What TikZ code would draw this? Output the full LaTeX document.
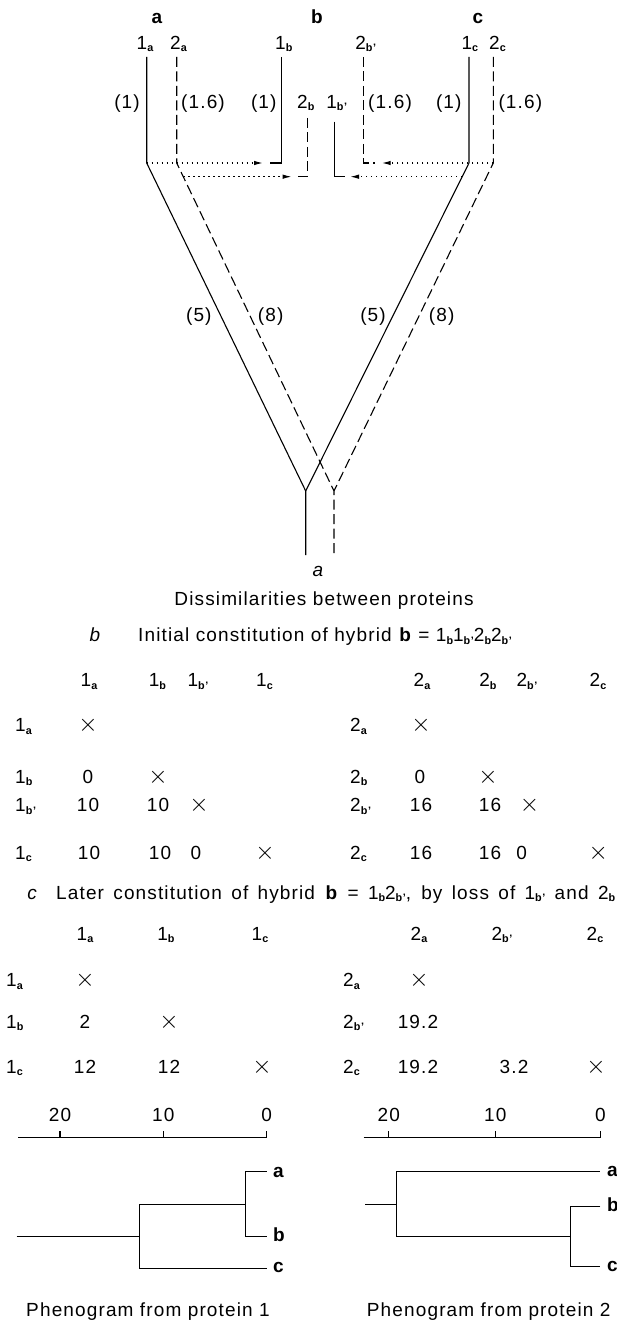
\documentclass[tikz,border=0pt]{standalone}
\usepackage{fontspec}
\setmainfont{Liberation Sans}[LetterSpace=6]
\usetikzlibrary{arrows.meta}
\newcommand{\lsub}[1]{\raisebox{-2.5pt}{\fontsize{10.8}{11}\selectfont\bfseries #1}}
\newcommand{\cross}{{\fontsize{25}{25}\selectfont$\times$}}

\begin{document}
\begin{tikzpicture}[x=1pt, y=-1pt, >={Latex[length=9pt,width=4.5pt]},
  font=\fontsize{19}{21}\selectfont,
  txt/.style={inner sep=0pt, anchor=base},
  txtw/.style={inner sep=0pt, anchor=base west},
  txte/.style={inner sep=0pt, anchor=base east},
  sp/.style={txt, font=\fontsize{19}{21}\selectfont\bfseries},
  part/.style={txt, font=\fontsize{19}{21}\selectfont\itshape},
  prot/.style={line width=1.1pt},
  prot2/.style={line width=1.1pt, dash pattern=on 10pt off 4.5pt},
  transfer/.style={->, line width=1.2pt, dash pattern=on 1.3pt off 3.7pt},
  phen/.style={line width=1.1pt}]
\useasboundingbox (0,0) rectangle (617,1321);

% a: gene tree of the two proteins
\coordinate (t1a) at (146.7,57);  \coordinate (k1a) at (146.7,163);
\coordinate (t2a) at (176.7,57);  \coordinate (k2a) at (176.7,163);
\coordinate (t1b) at (281.7,57);  \coordinate (k1b) at (281.7,163);  \coordinate (f1b) at (270,163);
\coordinate (t2bp) at (363.3,57); \coordinate (k2bp) at (363.3,163); \coordinate (f2bp) at (375,163);
\coordinate (t2b) at (307.3,118); \coordinate (k2b) at (307.3,176.7); \coordinate (f2b) at (296.7,176.7);
\coordinate (t1bp) at (334.3,121.7); \coordinate (k1bp) at (334.3,176.7); \coordinate (f1bp) at (345,176.7);
\coordinate (t1c) at (469,57);    \coordinate (k1c) at (469,163);
\coordinate (t2c) at (493.3,57);  \coordinate (k2c) at (493.3,163);
\coordinate (j1) at (305.7,491);  \coordinate (r1) at (305.7,555);
\coordinate (j2) at (334,491);    \coordinate (r2) at (334,555);
\coordinate (s2a) at (183.3,176.7); \coordinate (s1c) at (462.2,176.7);
\coordinate (h1b) at (263,163);   \coordinate (h2b) at (291.7,176.7);
\coordinate (h2bp) at (381.7,163); \coordinate (h1bp) at (350,176.7);

\draw[prot] (t1a) -- (k1a) -- (j1) -- (r1);
\draw[prot] (t1c) -- (k1c) -- (j1);
\draw[prot2] (t2a) -- (k2a) -- (j2) -- (r2);
\draw[prot2] (t2c) -- (k2c) -- (j2);
\draw[prot] (t1b) -- (k1b) -- (f1b);
\draw[prot] (t1bp) -- (k1bp) -- (f1bp);
\draw[prot2] (t2b) -- (k2b) -- (f2b);
\draw[prot2] (t2bp) -- (k2bp) -- (f2bp);
\draw[transfer] (k1a) -- (h1b);
\draw[transfer] (s2a) -- (h2b);
\draw[transfer] (k2c) -- (h2bp);
\draw[transfer] (s1c) -- (h1bp);

\node[sp] (spa) at (157,24) {a};
\node[sp] (spb) at (317,24) {b};
\node[sp] (spc) at (478,24) {c};
\node[txt] (n1a) at (145,49.3) {1\lsub{a}};
\node[txt] (n2a) at (178.5,49.3) {2\lsub{a}};
\node[txt] (n1b) at (283.8,49.3) {1\lsub{b}};
\node[txt] (n2bp) at (365.8,49.3) {2\lsub{b'}};
\node[txt] (n1c) at (469.8,49.3) {1\lsub{c}};
\node[txt] (n2c) at (497.5,49.3) {2\lsub{c}};
\node[txt] (n2b) at (305.8,108.3) {2\lsub{b}};
\node[txt] (n1bp) at (336.7,108.3) {1\lsub{b'}};
\node[txte] (d1a) at (140,108.3) {(1)};
\node[txtw] (d2a) at (181,108.3) {(1.6)};
\node[txte] (d1b) at (276.7,108.3) {(1)};
\node[txtw] (d2bp) at (368,108.3) {(1.6)};
\node[txte] (d1c) at (461.7,108.3) {(1)};
\node[txtw] (d2c) at (498.3,108.3) {(1.6)};
\node[txt] (e1a) at (198.8,321.7) {(5)};
\node[txt] (e2a) at (270.7,321.7) {(8)};
\node[txt] (e1c) at (373,321.7) {(5)};
\node[txt] (e2c) at (441.7,321.7) {(8)};
\node[part] (cpa) at (318,576) {a};
\node[txt] (tta) at (324,605) {Dissimilarities between proteins};

% b: initial hybrid
\node[part] (cpb) at (95,641.7) {b};
\node[txtw] (ttb) at (138,641.7) {Initial constitution of hybrid \textbf{b} = 1\lsub{b}1\lsub{b'}2\lsub{b}2\lsub{b'}};
\node[txt] (hb1a) at (89,686.7) {1\lsub{a}};
\node[txt] (hb1b) at (157.5,686.7) {1\lsub{b}};
\node[txt] (hb1bp) at (198,686.7) {1\lsub{b'}};
\node[txt] (hb1c) at (264.5,686.7) {1\lsub{c}};
\node[txt] (hb2a) at (422,686.7) {2\lsub{a}};
\node[txt] (hb2b) at (488,686.7) {2\lsub{b}};
\node[txt] (hb2bp) at (527,686.7) {2\lsub{b'}};
\node[txt] (hb2c) at (598,686.7) {2\lsub{c}};
\node[txtw] (rb1a) at (15,731.7) {1\lsub{a}};
\node[txtw] (rb1b) at (15,783.3) {1\lsub{b}};
\node[txtw] (rb1bp) at (15,811.7) {1\lsub{b'}};
\node[txtw] (rb1c) at (15,859) {1\lsub{c}};
\node[txtw] (rb2a) at (350,731.7) {2\lsub{a}};
\node[txtw] (rb2b) at (350,783.3) {2\lsub{b}};
\node[txtw] (rb2bp) at (350,811.7) {2\lsub{b'}};
\node[txtw] (rb2c) at (350,859) {2\lsub{c}};
\node[txt] (vb11) at (88,731.7) {\cross};
\node[txt] (vb21) at (88,783.3) {0};
\node[txt] (vb22) at (158,783.3) {\cross};
\node[txt] (vb31) at (88,811.7) {10};
\node[txt] (vb32) at (158,811.7) {10};
\node[txt] (vb33) at (199,811.7) {\cross};
\node[txt] (vb41) at (89,859) {10};
\node[txt] (vb42) at (160,859) {10};
\node[txt] (vb43) at (196,859) {0};
\node[txt] (vb44) at (265,859) {\cross};
\node[txt] (wb11) at (421,731.7) {\cross};
\node[txt] (wb21) at (420,783.3) {0};
\node[txt] (wb22) at (488,783.3) {\cross};
\node[txt] (wb31) at (421,811.7) {16};
\node[txt] (wb32) at (490,811.7) {16};
\node[txt] (wb33) at (529.5,811.7) {\cross};
\node[txt] (wb41) at (421,859) {16};
\node[txt] (wb42) at (490,859) {16};
\node[txt] (wb43) at (521.6,859) {0};
\node[txt] (wb44) at (598.4,859) {\cross};

% c: later hybrid
\node[part] (cpc) at (32,899) {c};
\node[txtw] (ttc) at (56,899) {\makebox[559pt][s]{Later constitution of hybrid \textbf{b} = 1\lsub{b}2\lsub{b'}, by loss of 1\lsub{b'} and 2\lsub{b}}};
\node[txt] (hc1a) at (85,940) {1\lsub{a}};
\node[txt] (hc1b) at (166,940) {1\lsub{b}};
\node[txt] (hc1c) at (260,940) {1\lsub{c}};
\node[txt] (hc2a) at (419,940) {2\lsub{a}};
\node[txt] (hc2bp) at (502,940) {2\lsub{b'}};
\node[txt] (hc2c) at (595,940) {2\lsub{c}};
\node[txtw] (rc1a) at (6,986.7) {1\lsub{a}};
\node[txtw] (rc1b) at (6,1028.3) {1\lsub{b}};
\node[txtw] (rc1c) at (6,1073) {1\lsub{c}};
\node[txtw] (rc2a) at (343,986.7) {2\lsub{a}};
\node[txtw] (rc2bp) at (343,1028.3) {2\lsub{b'}};
\node[txtw] (rc2c) at (343,1073) {2\lsub{c}};
\node[txt] (vc11) at (85,986.7) {\cross};
\node[txt] (vc21) at (85,1028.3) {2};
\node[txt] (vc22) at (169,1028.3) {\cross};
\node[txt] (vc31) at (85,1073) {12};
\node[txt] (vc32) at (169,1073) {12};
\node[txt] (vc33) at (262,1073) {\cross};
\node[txt] (wc11) at (419,986.7) {\cross};
\node[txt] (wc21) at (418,1028.3) {19.2};
\node[txt] (wc31) at (418,1073) {19.2};
\node[txt] (wc32) at (514,1073) {3.2};
\node[txt] (wc33) at (596,1073) {\cross};

% phenogram from protein 1
\coordinate (ax1l) at (18.3,1137.7); \coordinate (ax1r) at (266.7,1137.7);
\coordinate (tk120) at (60,1137.7);  \coordinate (tk120t) at (60,1131);
\coordinate (tk110) at (163.3,1137.7); \coordinate (tk110t) at (163.3,1131);
\coordinate (tk10t) at (266.7,1131);
\draw[phen] (ax1l) -- (ax1r) -- (tk10t);
\draw[phen] (tk120) -- (tk120t);
\draw[phen] (tk110) -- (tk110t);
\node[txt] (s120) at (60,1121.7) {20};
\node[txt] (s110) at (163.3,1121.7) {10};
\node[txt] (s10) at (266.7,1121.7) {0};
\coordinate (pa) at (266.7,1171.7); \coordinate (pb) at (266.7,1236.5); \coordinate (pc) at (266.7,1268.3);
\coordinate (u1) at (245.7,1171.7); \coordinate (u2) at (245.7,1236.5); \coordinate (um) at (245.7,1204.5);
\coordinate (v1) at (139.3,1204.5); \coordinate (v2) at (139.3,1268.3); \coordinate (vm) at (139.3,1236.5);
\coordinate (rt1) at (16.7,1236.5);
\draw[phen] (pa) -- (u1) -- (u2) -- (pb);
\draw[phen] (um) -- (v1) -- (v2) -- (pc);
\draw[phen] (rt1) -- (vm);
\node[sp, anchor=base west] (la1) at (273,1177.3) {a};
\node[sp, anchor=base west] (lb1) at (273,1241.7) {b};
\node[sp, anchor=base west] (lc1) at (273,1272.7) {c};
\node[txt] (cap1) at (148,1316) {Phenogram from protein 1};

% phenogram from protein 2
\coordinate (ax2l) at (363.7,1137.7); \coordinate (ax2r) at (600.3,1137.7);
\coordinate (tk220) at (388.7,1137.7);  \coordinate (tk220t) at (388.7,1131);
\coordinate (tk210) at (495.3,1137.7); \coordinate (tk210t) at (495.3,1131);
\coordinate (tk20t) at (600.3,1131);
\draw[phen] (ax2l) -- (ax2r) -- (tk20t);
\draw[phen] (tk220) -- (tk220t);
\draw[phen] (tk210) -- (tk210t);
\node[txt] (s220) at (388.7,1121.7) {20};
\node[txt] (s210) at (495.3,1121.7) {10};
\node[txt] (s20) at (600.3,1121.7) {0};
\coordinate (qa) at (600.3,1171.7); \coordinate (qb) at (600.3,1206.7); \coordinate (qc) at (600.3,1266.7);
\coordinate (y1) at (570.3,1206.7); \coordinate (y2) at (570.3,1266.7); \coordinate (ym) at (570.3,1236.7);
\coordinate (x1) at (396.3,1171.7); \coordinate (x2) at (396.3,1236.7); \coordinate (xm) at (396.3,1204.2);
\coordinate (rt2) at (365.3,1204.2);
\draw[phen] (qb) -- (y1) -- (y2) -- (qc);
\draw[phen] (ym) -- (x2) -- (x1) -- (qa);
\draw[phen] (rt2) -- (xm);
\node[sp, anchor=base west] (la2) at (607,1176) {a};
\node[sp, anchor=base west] (lb2) at (607,1211) {b};
\node[sp, anchor=base west] (lc2) at (607,1271.7) {c};
\node[txt] (cap2) at (488.7,1316) {Phenogram from protein 2};
\end{tikzpicture}
\end{document}
